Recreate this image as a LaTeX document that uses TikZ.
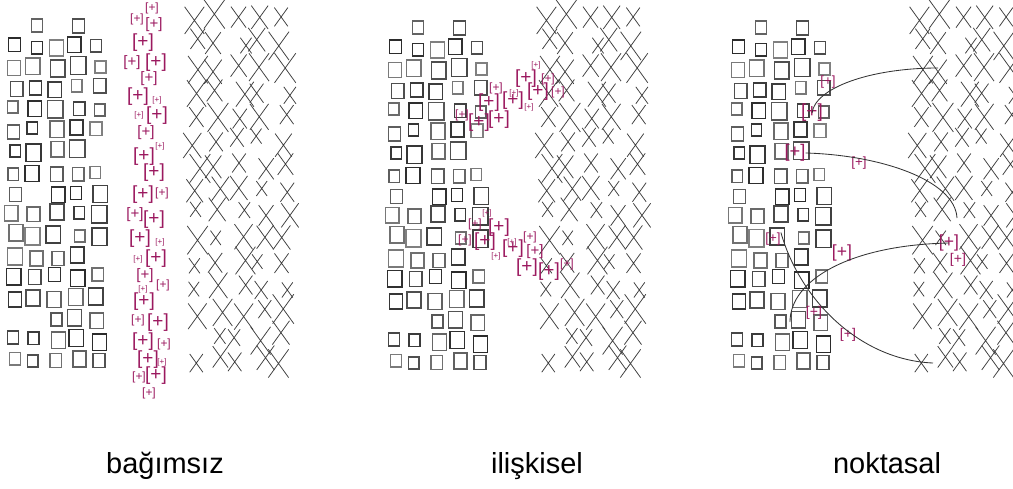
\documentclass[tikz,border=0pt]{standalone}
\usepackage{fontspec}
\setmainfont{Liberation Sans}
\definecolor{plum}{RGB}{155,25,95}

\tikzset{
  sq/.style={draw=black!#1, line width=1.1pt},
  cross/.style={draw=black!75, line width=0.55pt},
  plus/.style={text=plum, inner sep=0pt, font=\fontsize{#1}{#1}\selectfont},
  link/.style={draw=black!80, line width=0.6pt},
  lbl/.style={font=\fontsize{20.6}{24}\selectfont, inner sep=0pt, anchor=base},
  squarefield/.pic={
    \pgfmathsetseed{4242}
    \foreach \r in {0,...,16}{
      \foreach \c in {0,...,4}{
        \pgfmathtruncatemacro\keep{rnd>(\r==0 ? 0.55 : 0.06)}
        \pgfmathsetmacro\sx{14+21*\c+3*rand}
        \pgfmathsetmacro\sy{25+21*\r+2.5*rand}
        \pgfmathsetmacro\sh{6+3*rnd}
        \pgfmathsetmacro\sw{0.86*\sh}
        \pgfmathtruncatemacro\gr{50+35*rnd}
        \ifnum\keep=1
          \draw[sq=\gr] (\sx-\sw,\sy-\sh) rectangle (\sx+\sw,\sy+\sh);
        \fi
      }
    }
  },
  crossfield/.pic={
    \pgfmathsetseed{977}
    \foreach \r in {0,...,14}{
      \foreach \c in {0,...,4}{
        \pgfmathtruncatemacro\keep{rnd>0.05}
        \pgfmathsetmacro\cx{10+22*\c+6*rand}
        \pgfmathsetmacro\cy{18+24.5*\r+5*rand}
        \pgfmathsetmacro\ch{7+8*rnd}
        \pgfmathsetmacro\cw{0.72*\ch}
        \ifnum\keep=1
          \draw[cross] (\cx-\cw,\cy-\ch) -- (\cx+\cw,\cy+\ch)
                       (\cx-\cw,\cy+\ch) -- (\cx+\cw,\cy-\ch);
        \fi
      }
    }
  }
}

\begin{document}
\begin{tikzpicture}[x=0.025cm, y=-0.025cm]
\useasboundingbox (0,0) rectangle (1013,488);

% fields
\pic (sqA) at (0,0) {squarefield};
\pic (sqB) at (381,2) {squarefield};
\pic (sqC) at (724,2) {squarefield};
\pic (crA) at (186,0) {crossfield};
\pic (crB) at (538,0) {crossfield};
\pic (crC) at (911,0) {crossfield};

% bagimsiz
\foreach \x/\y/\s [count=\i] in {152/8/8.5, 137/19/8.5, 154/25/10.7, 143/43/13.5,
  132/63/10.7, 156/63/13.5, 149/79/10.7, 138/97/13.5, 157/100/5.7, 139/115/5.7,
  157/116/13.5, 146/133/10.7, 144/157/13.5, 160/146/5.7, 154/173/13.5, 143/195/13.5,
  162/193/8.5, 135/215/10.7, 154/220/13.5, 140/239/13.5, 160/242/5.7, 138/259/5.7,
  156/259/13.5, 145/276/10.7, 143/289/5.7, 163/285/8.5, 144/302/13.5, 138/320/8.5,
  158/323/13.5, 143/342/13.5, 164/344/8.5, 148/360/13.5, 162/362/5.7, 139/377/8.5,
  156/376/13.5, 149/393/8.5}
  \node[plus=\s] (a\i) at (\x,\y) {[+]};

% iliskisel
\foreach \x/\y/\s [count=\i] in {536/65/5.7, 526/79/13.5, 548/79/8.5, 496/88/8.5,
  514/93/5.7, 538/92/13.5, 558/92/8.5, 489/103/13.5, 513/101/13.5, 529/107/5.7,
  462/115/8.5, 479/123/13.5, 499/120/13.5, 487/213/5.7, 475/224/8.5, 499/228/13.5,
  465/240/8.5, 485/242/13.5, 512/242/5.7, 530/237/8.5, 513/249/13.5, 496/256/5.7,
  535/252/10.7, 527/268/13.5, 549/272/13.5, 567/264/8.5}
  \node[plus=\s] (b\i) at (\x,\y) {[+]};

% noktasal
\foreach \x/\y/\s [count=\i] in {828/82/9.5, 812/113/13.5, 795/153/13, 859/163/9.5,
  773/239/9.5, 842/253/12.5, 949/243/12.5, 958/260/10, 814/313/10, 848/335/10}
  \node[plus=\s] (c\i) at (\x,\y) {[+]};

\coordinate (ea) at (938,68);
\coordinate (eb) at (957,218);
\coordinate (ec) at (790,322);
\coordinate (ed) at (933,363);
\draw[link] (c2.center) .. controls (815,88) and (870,68) .. (ea);
\draw[link] (c3.east) .. controls (880,155) and (955,180) .. (eb);
\draw[link] (ec) .. controls (790,280) and (850,245) .. (c7.center);
\draw[link] (c5.north east) .. controls (800,300) and (860,360) .. (ed);

% labels
\node[lbl] (l1) at (165,473) {bağımsız};
\node[lbl] (l2) at (537,473) {ilişkisel};
\node[lbl] (l3) at (887,473) {noktasal};
\end{tikzpicture}
\end{document}
